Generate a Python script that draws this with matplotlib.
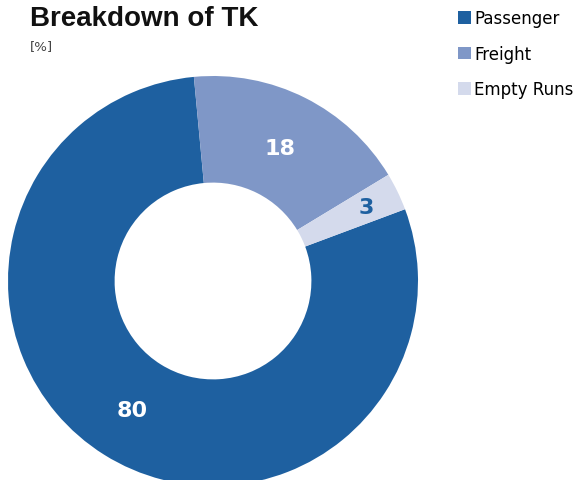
import matplotlib
matplotlib.use("Agg")
import matplotlib.pyplot as plt
import numpy as np

# Share of tonne-kilometres by run type (%)
categories = ["Passenger", "Freight", "Empty Runs"]
shares = [80, 18, 3]
colors = ["#1E60A0", "#7F97C7", "#D4DAEC"]
label_colors = ["white", "white", "#1E60A0"]
label_radius = [0.745, 0.725, 0.83]

fig = plt.figure(figsize=(5.77, 4.81), dpi=100)

# donut axes: centre at (213, 282) px, outer radius 205 px
W, H = 577, 481
cx, cy, R = 213, 282, 205
ax = fig.add_axes([(cx - R) / W, (H - cy - R) / H, 2 * R / W, 2 * R / H])

wedges, _ = ax.pie(
    shares,
    colors=colors,
    startangle=20.5,
    counterclock=False,
    radius=1.0,
    wedgeprops=dict(width=0.52, edgecolor="none"),
)
ax.set_xlim(-1, 1)
ax.set_ylim(-1, 1)
ax.set_aspect("equal")
ax.axis("off")

for w, val, col, r in zip(wedges, shares, label_colors, label_radius):
    mid = np.deg2rad((w.theta1 + w.theta2) / 2)
    ax.text(r * np.cos(mid), r * np.sin(mid), str(val), ha="center", va="center",
            fontsize=16, fontweight="bold", color=col, family="DejaVu Sans")

fig.text(30 / W, 1 - 6 / H, "Breakdown of TK", ha="left", va="top",
         fontsize=20, fontweight="bold", family="Liberation Sans", color="#111111")
fig.text(30 / W, 1 - 40 / H, "[%]", ha="left", va="top",
         fontsize=9.5, family="DejaVu Sans", color="#444444")

fig.legend(wedges, categories, loc="upper left", bbox_to_anchor=(455 / W, 1 - 7 / H),
           frameon=False, fontsize=12, handlelength=0.75, handleheight=0.75,
           handletextpad=0.2, labelspacing=1.05, borderaxespad=0, borderpad=0.2)

fig.savefig("out.png", dpi=100)
